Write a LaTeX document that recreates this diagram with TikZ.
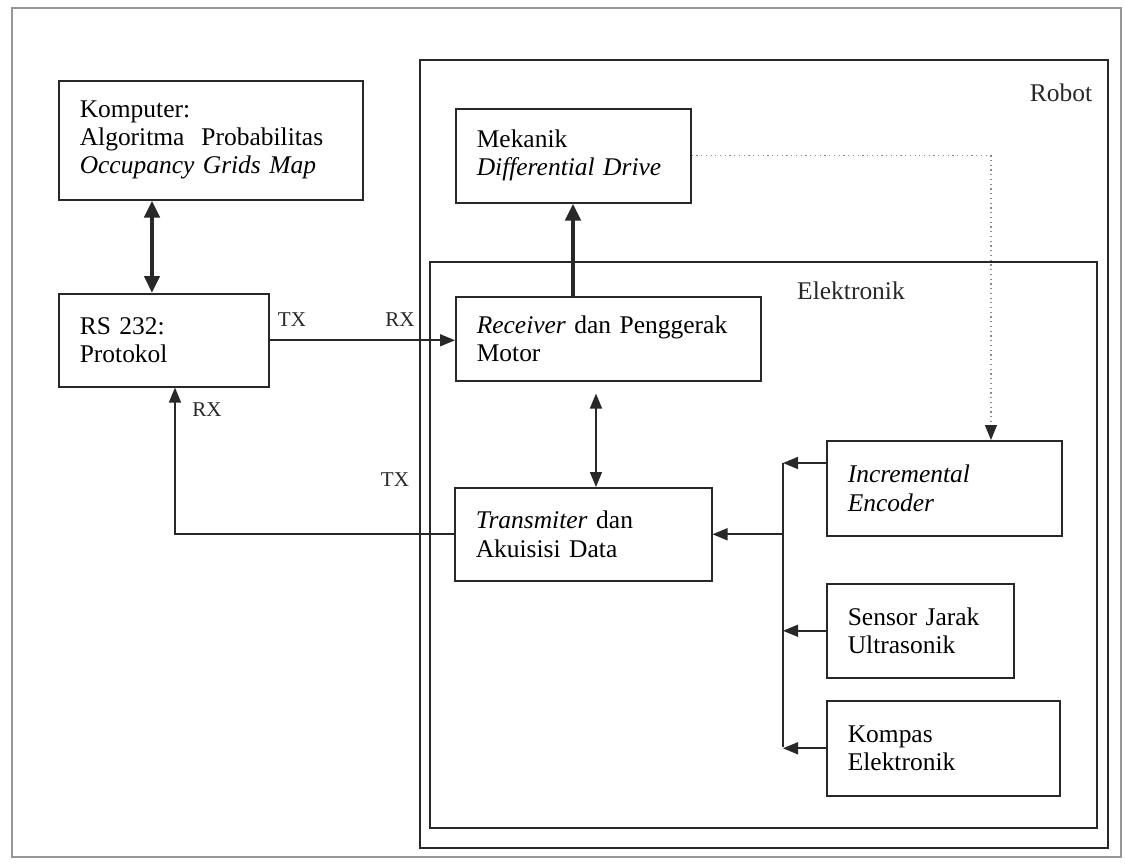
\documentclass[tikz,border=0pt]{standalone}
\usepackage{fontspec}
\setmainfont{Liberation Serif}
\usetikzlibrary{arrows.meta,positioning,calc}
\definecolor{bingkai}{RGB}{150,150,150}
\definecolor{garis}{RGB}{40,40,40}

\begin{document}
\begin{tikzpicture}[x=0.02cm,y=-0.02cm,
    blok/.style={draw=garis, line width=0.9pt, anchor=north west, align=left,
      inner xsep=0.42cm, inner ysep=0pt, font=\fontsize{14.5}{16}\selectfont},
    tanda/.style={font=\fontsize{12}{14}\selectfont, text=garis},
    judul/.style={font=\fontsize{14.5}{17}\selectfont, text=garis},
    panah/.style={draw=garis, line width=0.9pt, -{Triangle[length=0.3cm,width=0.24cm]}},
    panahdua/.style={draw=garis, line width=0.9pt,
      {Triangle[length=0.3cm,width=0.24cm]}-{Triangle[length=0.3cm,width=0.24cm]}},
    tebal/.style={draw=garis, line width=2.6pt, -{Triangle[length=0.34cm,width=0.3cm]}},
    tebaldua/.style={draw=garis, line width=2.6pt,
      {Triangle[length=0.34cm,width=0.3cm]}-{Triangle[length=0.34cm,width=0.3cm]}}
  ]

\useasboundingbox (0,0) rectangle (1125,864);

% outer frame and containers
\draw[bingkai, line width=0.8pt] (12,8) rectangle (1121,857);
\draw[garis, line width=0.9pt] (420,60) rectangle (1108,848);
\draw[garis, line width=0.9pt] (430,262) rectangle (1097,828);
\node[judul] (robot) at (1061,93) {Robot};
\node[judul] (elektronik) at (851,291) {Elektronik};

% blocks
\node[blok, text width=5.24cm, minimum height=2.38cm] (komputer) at (58,80)
  {Komputer:\\ Algoritma\ \ Probabilitas\\ \textit{Occupancy Grids Map}};
\node[blok, text width=3.36cm, minimum height=1.86cm] (rs) at (58,293)
  {RS 232:\\ Protokol};
\node[blok, text width=3.86cm, minimum height=1.88cm] (mekanik) at (455,108)
  {Mekanik\\ \textit{Differential Drive}};
\node[blok, text width=5.26cm, minimum height=1.68cm] (receiver) at (455,296)
  {\textit{Receiver} dan Penggerak\\ Motor};
\node[blok, text width=4.30cm, minimum height=1.86cm] (transmiter) at (454,487)
  {\textit{Transmiter} dan\\ Akuisisi Data};
\node[blok, text width=3.86cm, minimum height=1.90cm] (encoder) at (826,440)
  {\textit{Incremental}\\ \textit{Encoder}};
\node[blok, text width=2.90cm, minimum height=1.88cm] (sonar) at (826,583)
  {Sensor Jarak\\ Ultrasonik};
\node[blok, text width=3.82cm, minimum height=1.90cm] (kompas) at (826,700)
  {Kompas\\ Elektronik};

% serial link
\draw[tebaldua] ([xshift=1.88cm]komputer.south west) -- ([xshift=1.88cm]rs.north west);
\draw[panah] (rs.east) -- (rs.east -| receiver.west);
\draw[panah] (transmiter.west) -| ([xshift=2.34cm]rs.south west);
\node[tanda] (tx1) at (292,320) {TX};
\node[tanda] (rx1) at (400,320) {RX};
\node[tanda] (rx2) at (207,410) {RX};
\node[tanda] (tx2) at (395,480) {TX};

% robot side
\draw[tebal] ([xshift=2.36cm]receiver.north west) -- ([xshift=2.36cm]receiver.north west |- mekanik.south);
\draw[panahdua, shorten <=0.24cm] ([xshift=2.84cm]transmiter.north west |- receiver.south) -- ([xshift=2.84cm]transmiter.north west);
\draw[garis!55, dotted, line width=0.7pt, -{Triangle[length=0.3cm,width=0.24cm,color=garis]}]
  (mekanik.east) -| ([xshift=3.3cm]encoder.north west);

% sensor bus
\coordinate (busatas) at (783,463);
\coordinate (busbawah) at (783,747);
\draw[garis, line width=0.9pt] (busatas) -- (busbawah);
\draw[panah] ([yshift=-0.46cm]encoder.north west) -- ([yshift=-0.46cm]encoder.north west -| busatas);
\draw[panah] (sonar.west) -- (sonar.west -| busatas);
\draw[panah] (kompas.west) -- (kompas.west -| busatas);
\draw[panah] (transmiter.east -| busatas) -- (transmiter.east);

\end{tikzpicture}
\end{document}
